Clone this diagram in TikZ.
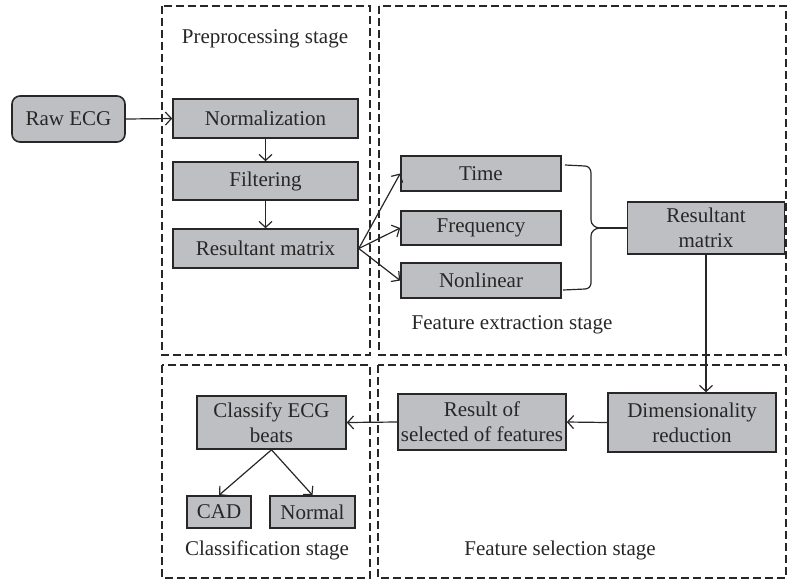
\documentclass[tikz,border=0pt]{standalone}
\usepackage{fontspec}
\setmainfont{Liberation Serif}
\usetikzlibrary{arrows.meta}

\definecolor{boxgray}{RGB}{190,191,194}
\definecolor{inkgray}{RGB}{40,38,39}

\tikzset{
    block/.style={draw=inkgray,fill=boxgray,line width=0.8pt,text=inkgray,
                  align=center,inner sep=1pt,font=\fontsize{10.5}{12.5}\selectfont},
    stagebox/.style={draw=inkgray,line width=0.6pt,dash pattern=on 4pt off 2pt},
    stagetext/.style={text=inkgray,font=\fontsize{10.5}{12.5}\selectfont},
    link/.style={draw=inkgray,line width=0.6pt,-{Straight Barb[length=3pt,width=6.5pt]}},
}

\begin{document}
\begin{tikzpicture}[x=0.5pt,y=-0.5pt]
        \useasboundingbox (0,0) rectangle (787,580);

        % stages
        \draw[stagebox] (162,6)   rectangle (370,355);
        \draw[stagebox] (379,6)   rectangle (786,355);
        \draw[stagebox] (162,365) rectangle (370,578);
        \draw[stagebox] (378,365) rectangle (786,578);

        \node[stagetext] (prelabel) at (265,39)  {Preprocessing stage};
        \node[stagetext] (extlabel) at (512,325) {Feature extraction stage};
        \node[stagetext] (clslabel) at (267,550) {Classification stage};
        \node[stagetext] (sellabel) at (560,550) {Feature selection stage};

        % blocks
        \node[block,rounded corners=4pt,minimum width=56.5pt,minimum height=23pt] (raw) at (68.5,119) {Raw ECG};
        \node[block,minimum width=92.5pt,minimum height=19.5pt] (norm)   at (265.5,118.5) {Normalization};
        \node[block,minimum width=92.5pt,minimum height=19pt]   (filt)   at (265.5,181)   {Filtering};
        \node[block,minimum width=92.5pt,minimum height=19.5pt] (resA)   at (265.5,248.5) {Resultant matrix};

        \node[block,minimum width=80pt,minimum height=17.5pt] (time)   at (481,173.5) {Time};
        \node[block,minimum width=80pt,minimum height=17pt]   (freq)   at (481,228)   {Frequency};
        \node[block,minimum width=80pt,minimum height=17.5pt] (nonlin) at (481,280.5) {Nonlinear};
        \node[block,minimum width=78.5pt,minimum height=26pt] (resB)   at (706,228)   {Resultant\\matrix};

        \node[block,minimum width=84pt,minimum height=29.5pt] (dim)  at (692,422.5) {Dimensionality\\reduction};
        \node[block,minimum width=84pt,minimum height=28pt]   (sel)  at (482,422)   {Result of\\selected of features};
        \node[block,minimum width=74.5pt,minimum height=26.5pt] (cls) at (271.5,422.5) {Classify ECG\\beats};
        \node[block,minimum width=32pt,minimum height=16pt]   (cad)    at (219,512)   {CAD};
        \node[block,minimum width=42.5pt,minimum height=16pt] (normal) at (312.5,512) {Normal};

        % connectors
        \draw[link] (raw.east)   -- (norm.west);
        \draw[link] (norm.south) -- (filt.north);
        \draw[link] (filt.south) -- (resA.north);
        \draw[link] (resA.east)  -- (time.west);
        \draw[link] (resA.east)  -- (freq.west);
        \draw[link] (resA.east)  -- (nonlin.west);

        % brace
        \coordinate (join) at (600,228);
        \draw[inkgray,line width=0.6pt] (565,165) -- (585,166) to[out=0,in=90] (591,173)
              -- (591,220) to[out=-90,in=180] (join);
        \draw[inkgray,line width=0.6pt] (563,290) -- (585,289) to[out=0,in=-90] (591,283)
              -- (591,236) to[out=90,in=180] (join);
        \draw[inkgray,line width=0.6pt] (join) -- (resB.west);

        \draw[link] (resB.south) -- (resB.south |- dim.north);
        \draw[link] (dim.west)   -- (sel.east);
        \draw[link] (sel.west)   -- (cls.east);
        \draw[link] (cls.south)  -- (cad.north);
        \draw[link] (cls.south)  -- (normal.north);
\end{tikzpicture}
\end{document}
